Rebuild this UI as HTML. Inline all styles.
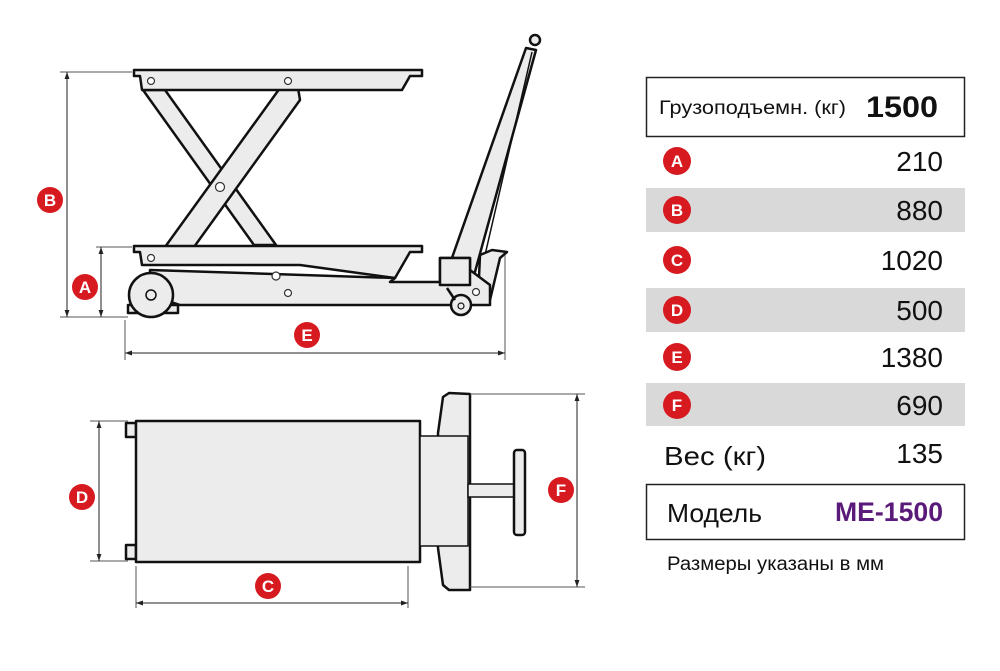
<!DOCTYPE html>
<html><head><meta charset="utf-8"><style>
html,body{margin:0;padding:0;background:#fff}
svg{display:block}
.t{font-family:"Liberation Sans","DejaVu Sans",sans-serif}
</style></head><body>
<svg width="1000" height="671" viewBox="0 0 1000 671" xmlns="http://www.w3.org/2000/svg">
<defs>
<marker id="ar" viewBox="0 0 10 10" refX="10" refY="5" markerWidth="10" markerHeight="7" orient="auto-start-reverse"><path d="M0,1.5 L10,5 L0,8.5 z" fill="#222"/></marker>
</defs>
<g stroke="#111" stroke-width="2.5" fill="#ececec" stroke-linejoin="round">
<!-- handle -->
<path d="M447,272 L526,48 L536,50 L470,290 Z"/>
<path d="M482,268 L532,52" fill="none" stroke-width="1.5"/>
<circle cx="535" cy="40" r="5"/>
<path d="M480,255 L492,250 L507,252 L500,258 L490,300 L478,300 Z"/>
<!-- scissor arms -->
<path d="M143,90 L165,90 L276,245 L254,245 Z"/>
<path d="M298,88 L300,100 L194,247 L165,247 L280,88 Z"/>
<!-- top platform -->
<path d="M134,70 L422,70 L422,76 L410,76 L402,90 L142,90 L140,76 L134,76 Z"/>
<!-- lower platform -->
<path d="M134,246 L422,246 L422,252 L410,252 L395,278 L300,265 L142,265 L140,252 L134,252 Z"/>
<!-- base -->
<path d="M150,270 L395,278 L390,282 L440,282 L440,258 L470,258 L470,270 L490,285 L490,305 L470,305 L180,305 L150,295 Z"/>
<path d="M440,258 L470,258 L470,285 L440,285 Z"/>
<path d="M128,305 L178,305 L178,313 L128,313 Z"/>
<circle cx="151" cy="295" r="22"/>
<circle cx="151" cy="295" r="5" stroke-width="1.5"/>
<circle cx="461" cy="305" r="10"/>
<circle cx="461" cy="306" r="3" stroke-width="1.2"/>
<path d="M447,288 L455,300" fill="none"/>
</g>
<g fill="#fff" stroke="#333" stroke-width="1.2">
<circle cx="151" cy="81" r="3.5"/><circle cx="288" cy="81" r="3.5"/>
<circle cx="220" cy="187" r="4.5"/><circle cx="151" cy="258" r="3.5"/>
<circle cx="276" cy="276" r="4"/><circle cx="288" cy="293" r="3.5"/>
<circle cx="476" cy="292" r="3.5"/>
</g>
<!-- dimension lines side -->
<g stroke="#555" stroke-width="1" fill="none">
<line x1="60" y1="72" x2="132" y2="72"/><line x1="60" y1="317" x2="128" y2="317"/>
<line x1="96" y1="247" x2="132" y2="247"/>
<line x1="125" y1="320" x2="125" y2="360"/><line x1="505" y1="255" x2="505" y2="360"/>
<line x1="67" y1="72" x2="67" y2="317" stroke="#222" marker-start="url(#ar)" marker-end="url(#ar)"/>
<line x1="101" y1="247" x2="101" y2="317" stroke="#222" marker-start="url(#ar)" marker-end="url(#ar)"/>
<line x1="125" y1="353" x2="505" y2="353" stroke="#222" marker-start="url(#ar)" marker-end="url(#ar)"/>
</g>
<!-- top view -->
<g stroke="#111" stroke-width="2.5" fill="#ececec" stroke-linejoin="round">
<path d="M126,423 L136,423 L136,437 L126,437 Z"/>
<path d="M126,545 L136,545 L136,559 L126,559 Z"/>
<path d="M438,433 L443,397 L449,393 L470,394 L470,590 L449,590 L443,585 L438,548 Z"/>
<rect x="136" y="421" width="284" height="141"/>
<rect x="420" y="436" width="48" height="110" stroke-width="1.5"/>
<rect x="468" y="484" width="56" height="13" stroke-width="1.5"/>
<rect x="514" y="450" width="11" height="85" rx="3"/>
</g>
<g stroke="#555" stroke-width="1" fill="none">
<line x1="90" y1="421" x2="128" y2="421"/><line x1="90" y1="561" x2="128" y2="561"/>
<line x1="136" y1="566" x2="136" y2="608"/><line x1="408" y1="566" x2="408" y2="608"/>
<line x1="470" y1="394" x2="585" y2="394"/><line x1="470" y1="587" x2="585" y2="587"/>
<line x1="99" y1="421" x2="99" y2="561" stroke="#222" marker-start="url(#ar)" marker-end="url(#ar)"/>
<line x1="136" y1="603" x2="408" y2="603" stroke="#222" marker-start="url(#ar)" marker-end="url(#ar)"/>
<line x1="577" y1="394" x2="577" y2="587" stroke="#222" marker-start="url(#ar)" marker-end="url(#ar)"/>
</g>
<!-- label circles -->
<g class="t" font-weight="bold" font-size="17" text-anchor="middle" fill="#fff">
<circle cx="50" cy="200" r="13" fill="#d71920"/><text x="50" y="206">B</text>
<circle cx="85" cy="287" r="13" fill="#d71920"/><text x="85" y="293">A</text>
<circle cx="307" cy="335" r="13" fill="#d71920"/><text x="307" y="341">E</text>
<circle cx="82" cy="497" r="13" fill="#d71920"/><text x="82" y="503">D</text>
<circle cx="268" cy="586" r="13" fill="#d71920"/><text x="268" y="592">C</text>
<circle cx="561" cy="490" r="13" fill="#d71920"/><text x="561" y="496">F</text>
</g>
<!-- table -->
<rect x="646.5" y="77.5" width="318" height="59" fill="#fff" stroke="#222" stroke-width="1.5"/>
<rect x="646" y="188" width="319" height="44" fill="#d9d9d9"/>
<rect x="646" y="288" width="319" height="44" fill="#d9d9d9"/>
<rect x="646" y="383" width="319" height="43" fill="#d9d9d9"/>
<rect x="646.5" y="484.5" width="318" height="55" fill="#fff" stroke="#222" stroke-width="1.5"/>
<g class="t" font-weight="bold" font-size="17" text-anchor="middle" fill="#fff">
<circle cx="677" cy="161" r="14" fill="#d71920"/><text x="677" y="167">A</text>
<circle cx="677" cy="210" r="14" fill="#d71920"/><text x="677" y="216">B</text>
<circle cx="677" cy="260" r="14" fill="#d71920"/><text x="677" y="266">C</text>
<circle cx="677" cy="310" r="14" fill="#d71920"/><text x="677" y="316">D</text>
<circle cx="677" cy="357" r="14" fill="#d71920"/><text x="677" y="363">E</text>
<circle cx="677" cy="405" r="14" fill="#d71920"/><text x="677" y="411">F</text>
</g>
<g class="t" fill="#111">
<text x="659" y="114" font-size="19" textLength="187" lengthAdjust="spacingAndGlyphs">Грузоподъемн. (кг)</text>
<text x="938" y="117" font-size="30" font-weight="bold" text-anchor="end" textLength="72" lengthAdjust="spacingAndGlyphs">1500</text>
<g font-size="28" text-anchor="end">
<text x="943" y="171">210</text>
<text x="943" y="220">880</text>
<text x="943" y="270">1020</text>
<text x="943" y="320">500</text>
<text x="943" y="367">1380</text>
<text x="943" y="415">690</text>
<text x="943" y="463">135</text>
</g>
<text x="664" y="465" font-size="26" textLength="102" lengthAdjust="spacingAndGlyphs">Вес (кг)</text>
<text x="667" y="522" font-size="26" textLength="95" lengthAdjust="spacingAndGlyphs">Модель</text>
<text x="943" y="521" font-size="27" font-weight="bold" fill="#5a1a7a" text-anchor="end" textLength="108" lengthAdjust="spacingAndGlyphs">ME-1500</text>
<text x="667" y="570" font-size="19" textLength="217" lengthAdjust="spacingAndGlyphs">Размеры указаны в мм</text>
</g>
</svg>
</body></html>
